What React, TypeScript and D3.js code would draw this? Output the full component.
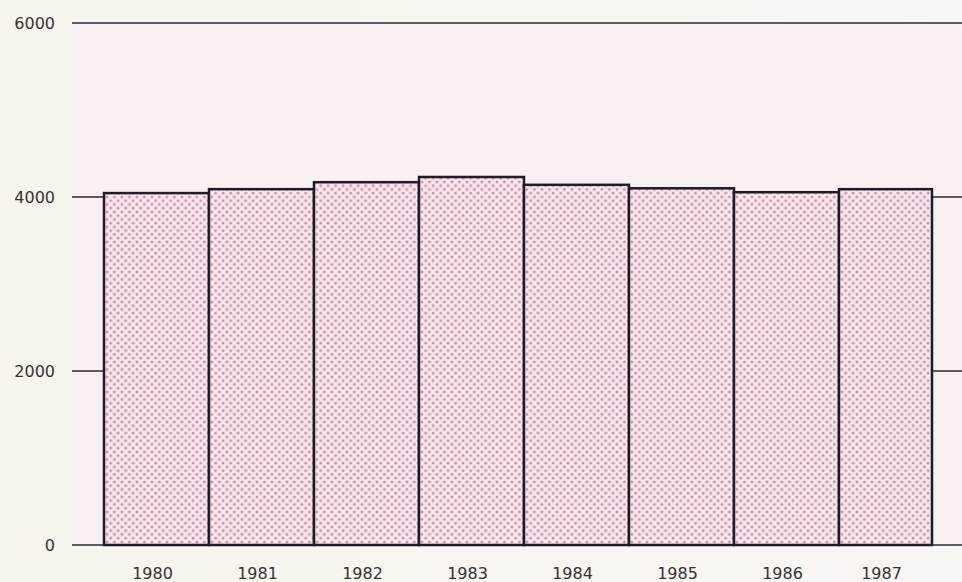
import React from "react";
import * as d3 from "d3";

const years = ["1980", "1981", "1982", "1983", "1984", "1985", "1986", "1987"];
const values = [4045, 4090, 4170, 4230, 4140, 4100, 4055, 4090];
const yTicks = [0, 2000, 4000, 6000];

const W = 962;
const H = 582;

export default function App() {
  const y = d3.scaleLinear().domain([0, 6000]).range([545, 23]);
  const x = d3.scaleBand().domain(years).range([104, 944]).padding(0);
  const plotRight = 932;
  const gridX0 = 72;
  const gridX1 = 962;
  return (
    <svg
      width={W}
      height={H}
      style={{ position: "fixed", left: 0, top: 0, display: "block" }}
      fontFamily="'DejaVu Sans', sans-serif"
    >
      <defs>
        <pattern id="dots" width="7.5" height="7.5" patternUnits="userSpaceOnUse">
          <rect width="7.5" height="7.5" fill="#f8e6ed" />
          <circle cx="1.9" cy="1.9" r="1.45" fill="#c98ca8" />
          <circle cx="5.65" cy="5.65" r="1.45" fill="#c98ca8" />
        </pattern>
        <linearGradient id="bg" x1="0" x2="1" y1="0" y2="0">
          <stop offset="0" stopColor="#f7f4ec" />
          <stop offset="1" stopColor="#f9f5f3" />
        </linearGradient>
      </defs>
      <rect width={W} height={H} fill="url(#bg)" />
      <rect x={gridX0} y={y(6000)} width={gridX1 - gridX0} height={y(0) - y(6000)} fill="#f8eff1" />
      {yTicks.map((t) => (
        <g key={t}>
          <line x1={gridX0} x2={gridX1} y1={y(t)} y2={y(t)} stroke="#2a2a30" strokeWidth={1.6} />
          <text x={55} y={y(t)} dy="0.36em" textAnchor="end" fontSize={16} fill="#333">
            {t}
          </text>
        </g>
      ))}
      {years.map((yr, i) => {
        const x0 = x(yr)!;
        const w = Math.min(x.bandwidth(), plotRight - x0);
        return (
          <rect
            key={yr}
            x={x0}
            y={y(values[i])}
            width={w}
            height={y(0) - y(values[i])}
            fill="url(#dots)"
            stroke="#1c1c28"
            strokeWidth={2.5}
          />
        );
      })}
      {years.map((yr) => {
        const x0 = x(yr)!;
        const w = Math.min(x.bandwidth(), plotRight - x0);
        return (
          <text
            key={yr}
            x={x0 + w / 2 - 4}
            y={579}
            textAnchor="middle"
            fontSize={16}
            fill="#333"
          >
            {yr}
          </text>
        );
      })}
    </svg>
  );
}
